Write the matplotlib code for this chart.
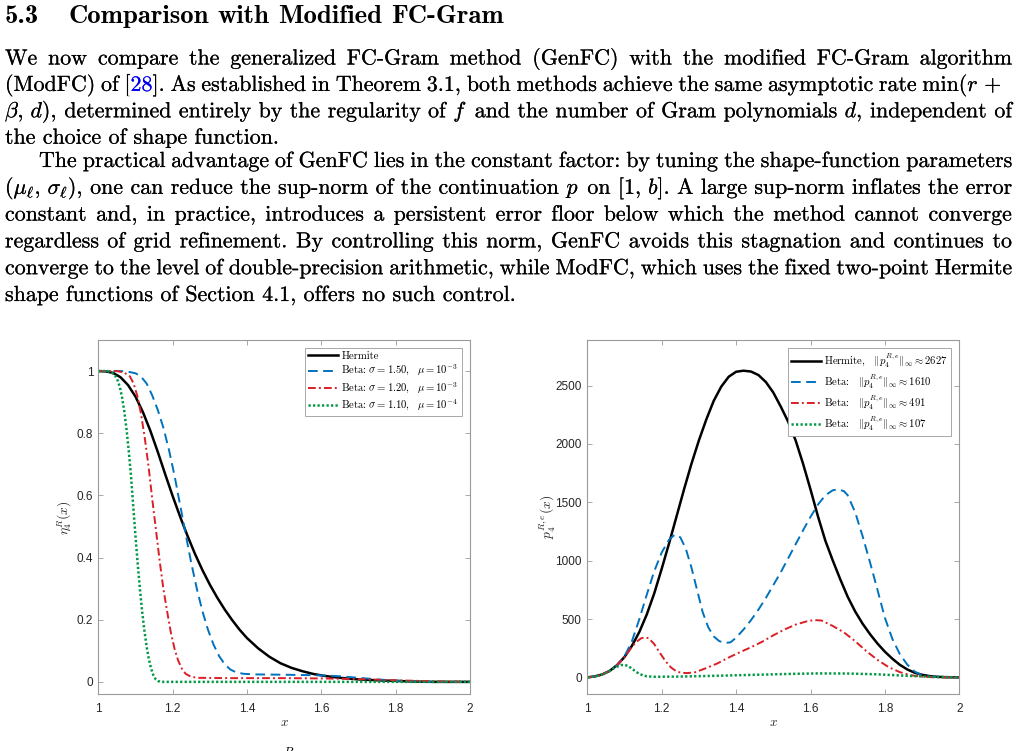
import matplotlib
matplotlib.use("Agg")
import matplotlib.pyplot as plt
import matplotlib.patheffects as pe

plt.rcParams['mathtext.fontset'] = 'cm'
plt.rcParams['axes.unicode_minus'] = False

W, H = 1021, 751
DPI = 100

# ---------------- data: left panel  eta_4^R(x) ----------------
eta_herm_x = [1.000, 1.020, 1.040, 1.060, 1.080, 1.100, 1.120, 1.140, 1.160, 1.180, 1.200, 1.220,
              1.240, 1.260, 1.280, 1.300, 1.320, 1.340, 1.360, 1.380, 1.400, 1.430, 1.460, 1.490,
              1.520, 1.550, 1.580, 1.610, 1.650, 1.700, 1.750, 1.800, 1.850, 1.900, 2.000]
eta_herm_y = [1.000, 0.999, 0.994, 0.980, 0.955, 0.918, 0.868, 0.808, 0.740, 0.668, 0.598, 0.532,
              0.470, 0.412, 0.360, 0.313, 0.271, 0.233, 0.199, 0.168, 0.141, 0.108, 0.081, 0.060,
              0.045, 0.034, 0.025, 0.019, 0.013, 0.008, 0.005, 0.003, 0.001, 0.000, 0.000]

eta_b150_x = [1.000, 1.060, 1.080, 1.100, 1.115, 1.130, 1.145, 1.160, 1.175, 1.190, 1.205, 1.220,
              1.235, 1.250, 1.265, 1.280, 1.295, 1.310, 1.325, 1.340, 1.355, 1.370, 1.390, 1.420,
              1.500, 1.600, 1.650, 1.700, 1.750, 1.800, 1.850, 1.900, 2.000]
eta_b150_y = [1.000, 1.000, 0.998, 0.993, 0.982, 0.960, 0.922, 0.875, 0.818, 0.747, 0.664, 0.570,
              0.475, 0.383, 0.300, 0.228, 0.168, 0.120, 0.083, 0.057, 0.040, 0.031, 0.026, 0.024,
              0.023, 0.021, 0.018, 0.013, 0.008, 0.004, 0.002, 0.000, 0.000]

eta_b120_x = [1.000, 1.050, 1.070, 1.085, 1.095, 1.105, 1.115, 1.125, 1.135, 1.145, 1.155, 1.165,
              1.175, 1.185, 1.195, 1.205, 1.215, 1.225, 1.235, 1.250, 1.270, 1.350, 1.500, 1.600,
              1.700, 1.800, 1.900, 2.000]
eta_b120_y = [1.000, 1.000, 0.995, 0.983, 0.960, 0.920, 0.862, 0.785, 0.695, 0.590, 0.490, 0.390,
              0.300, 0.228, 0.160, 0.107, 0.068, 0.042, 0.026, 0.016, 0.013, 0.012, 0.012, 0.011,
              0.009, 0.005, 0.002, 0.000]

eta_b110_x = [1.000, 1.025, 1.035, 1.045, 1.052, 1.058, 1.064, 1.070, 1.076, 1.082, 1.088, 1.094,
              1.100, 1.106, 1.112, 1.118, 1.124, 1.130, 1.136, 1.142, 1.148, 1.154, 1.160, 1.168,
              2.000]
eta_b110_y = [1.000, 1.000, 0.996, 0.986, 0.970, 0.948, 0.915, 0.870, 0.812, 0.742, 0.662, 0.565,
              0.470, 0.380, 0.298, 0.226, 0.165, 0.114, 0.073, 0.043, 0.022, 0.009, 0.003, 0.000,
              0.000]

# ---------------- data: right panel  p_4^{R,e}(x) ----------------
p_herm_x = [1.00, 1.02, 1.04, 1.06, 1.08, 1.10, 1.12, 1.14, 1.16, 1.18, 1.20, 1.22, 1.24, 1.26,
            1.28, 1.30, 1.32, 1.34, 1.36, 1.38, 1.40, 1.42, 1.44, 1.46, 1.48, 1.50, 1.52, 1.54,
            1.56, 1.58, 1.60, 1.62, 1.64, 1.66, 1.68, 1.70, 1.72, 1.74, 1.76, 1.78, 1.80, 1.82,
            1.84, 1.86, 1.88, 1.90, 1.92, 1.94, 1.96, 2.00]
p_herm_y = [0, 8, 25, 55, 105, 175, 270, 390, 540, 720, 930, 1150, 1380, 1610,
            1830, 2030, 2210, 2370, 2490, 2575, 2618, 2627, 2620, 2590, 2530, 2440, 2320, 2190,
            2030, 1830, 1610, 1380, 1170, 1000, 840, 690, 565, 460, 370, 290, 220, 160,
            108, 68, 40, 22, 11, 5, 2, 0]

p_b150_x = [1.00, 1.02, 1.04, 1.06, 1.08, 1.10, 1.12, 1.14, 1.16, 1.18, 1.20, 1.22, 1.235, 1.25,
            1.265, 1.28, 1.295, 1.31, 1.325, 1.34, 1.355, 1.37, 1.385, 1.40, 1.42, 1.44, 1.46,
            1.48, 1.50, 1.52, 1.54, 1.56, 1.58, 1.60, 1.62, 1.64, 1.66, 1.675, 1.69, 1.70, 1.72,
            1.74, 1.76, 1.78, 1.80, 1.82, 1.84, 1.86, 1.88, 1.90, 1.92, 2.00]
p_b150_y = [0, 8, 25, 55, 105, 180, 310, 500, 710, 910, 1070, 1180, 1222, 1200,
            1100, 940, 750, 560, 430, 350, 310, 295, 300, 340, 410, 490, 580,
            680, 790, 900, 1020, 1140, 1260, 1375, 1480, 1560, 1603, 1610, 1595, 1560, 1415,
            1210, 985, 750, 510, 330, 200, 110, 50, 18, 5, 0]

p_b120_x = [1.00, 1.02, 1.04, 1.06, 1.08, 1.10, 1.115, 1.13, 1.145, 1.155, 1.165, 1.18, 1.195,
            1.21, 1.225, 1.24, 1.255, 1.27, 1.29, 1.32, 1.35, 1.38, 1.41, 1.44, 1.47, 1.50,
            1.53, 1.56, 1.59, 1.61, 1.63, 1.66, 1.69, 1.72, 1.75, 1.78, 1.81, 1.84, 1.87, 1.90,
            1.93, 2.00]
p_b120_y = [0, 8, 25, 55, 105, 175, 240, 300, 335, 343, 335, 285, 210,
            140, 85, 50, 38, 37, 44, 80, 120, 170, 215, 258, 305, 360,
            410, 452, 480, 491, 487, 440, 385, 310, 225, 150, 88, 45, 18, 6,
            1, 0]

p_b110_x = [1.00, 1.02, 1.04, 1.06, 1.075, 1.09, 1.10, 1.11, 1.12, 1.13, 1.14, 1.15, 1.16,
            1.18, 1.25, 1.35, 1.45, 1.55, 1.62, 1.70, 1.78, 1.85, 1.92, 2.00]
p_b110_y = [0, 8, 25, 55, 85, 105, 107, 97, 75, 50, 30, 17, 9,
            5, 7, 14, 22, 30, 34, 33, 26, 15, 5, 0]

# ---------------- ticks and labels ----------------
xticks = [1, 1.2, 1.4, 1.6, 1.8, 2]
xtick_labels = ['1', '1.2', '1.4', '1.6', '1.8', '2']
yticks_left = [0, 0.2, 0.4, 0.6, 0.8, 1]
ytick_labels_left = ['0', '0.2', '0.4', '0.6', '0.8', '1']
yticks_right = [0, 500, 1000, 1500, 2000, 2500]
ytick_labels_right = ['0', '500', '1000', '1500', '2000', '2500']

legend_left = ["Hermite",
               r"Beta:$\ \sigma = 1.50,\ \ \mu = 10^{-3}$",
               r"Beta:$\ \sigma = 1.20,\ \ \mu = 10^{-3}$",
               r"Beta:$\ \sigma = 1.10,\ \ \mu = 10^{-4}$"]
legend_right = [r"Hermite,$\quad\|p_4^{R,e}\|_\infty \approx 2627$",
                r"Beta:$\quad\|p_4^{R,e}\|_\infty \approx 1610$",
                r"Beta:$\quad\|p_4^{R,e}\|_\infty \approx 491$",
                r"Beta:$\quad\|p_4^{R,e}\|_\infty \approx 107$"]

ylabel_left = r"$\eta_4^R(x)$"
ylabel_right = r"$p_4^{R,e}(x)$"
xlabel = r"$x$"

heading_num = "5.3"
heading_title = "Comparison with Modified FC-Gram"
body_lines = [
    "We now compare the generalized FC-Gram method (GenFC) with the modified FC-Gram algorithm",
    r"(ModFC) of [§28§]. As established in Theorem 3.1, both methods achieve the same asymptotic rate $\min(r\,+$",
    r"$\beta,\,d)$, determined entirely by the regularity of $f$ and the number of Gram polynomials $d$, independent of",
    "the choice of shape function.",
    "The practical advantage of GenFC lies in the constant factor: by tuning the shape-function parameters",
    r"$(\mu_\ell,\,\sigma_\ell)$, one can reduce the sup-norm of the continuation $p$ on $[1,\,b]$. A large sup-norm inflates the error",
    "constant and, in practice, introduces a persistent error floor below which the method cannot converge",
    "regardless of grid refinement. By controlling this norm, GenFC avoids this stagnation and continues to",
    "converge to the level of double-precision arithmetic, while ModFC, which uses the fixed two-point Hermite",
    "shape functions of Section 4.1, offers no such control.",
]
caption_fragment = r"$R$"

# ---------------- styling / layout ----------------
BLACK = '#000000'
BLUE = '#0072BD'
RED = '#DA1F26'
GREEN = '#009944'
SPINE = '#9a9a9a'
TICKTXT = '#262626'

fig = plt.figure(figsize=(W / DPI, H / DPI), dpi=DPI)
renderer = fig.canvas.get_renderer()


def measure(s, **kw):
    t = fig.text(0, 0, s, **kw)
    w = t.get_window_extent(renderer).width
    t.remove()
    return w


def segments(tok):
    if '§' in tok and '$' not in tok:
        parts = tok.split('§')
        return [(p, BLACK if i % 2 == 0 else '#0000EE') for i, p in enumerate(parts) if p]
    return [(tok, BLACK)]


def natural_width(text, size, family, space_em=0.333):
    toks = text.split(' ')
    tw = sum(measure(s, size=size, family=family) for t in toks for s, c in segments(t))
    return tw + (len(toks) - 1) * space_em * size * DPI / 72


def layout_line(text, x0, x1, yb, size, family, space_em=0.333, stroke=0.0):
    toks = text.split(' ')
    segs = [segments(t) for t in toks]
    widths = [[measure(s, size=size, family=family) for s, c in sg] for sg in segs]
    tot = sum(sum(w) for w in widths)
    if x1 is None:
        gap = space_em * size * DPI / 72
    else:
        gap = (x1 - x0 - tot) / (len(toks) - 1)
    x = x0
    for sg, ws in zip(segs, widths):
        for (s, c), w in zip(sg, ws):
            t = fig.text(x / W, 1 - yb / H, s, size=size, family=family, color=c,
                         va='baseline', ha='left')
            if stroke > 0:
                t.set_path_effects([pe.withStroke(linewidth=stroke, foreground=c)])
            x += w
        x += gap


# heading
hsize = 14.0 * 435.0 / natural_width(heading_title, 14.0, 'cmb10')
layout_line(heading_num, 5, None, 23.3, hsize, 'cmb10')
layout_line(heading_title, 68.3, None, 23.3, hsize, 'cmb10')

# body
bsize = 14.0 * 508.0 / natural_width(body_lines[-1], 14.0, 'cmr10')
line_x0 = [5, 5, 5, 5, 39, 5, 5, 5, 5, 5]
line_x1 = [1012, 1002, 1012, None, 1012, 1012, 1012, 1012, 1012, None]
line_y = [64.5, 90.9, 117.3, 143.7, 167.0, 193.8, 220.6, 247.4, 274.2, 301.0]
for txt, a, b, yb in zip(body_lines, line_x0, line_x1, line_y):
    layout_line(txt, a, b, yb, bsize, 'cmr10', stroke=0.12)

# caption fragment (cut at figure bottom, as in the reference)
fig.text(283 / W, 1 - 745.5 / H, caption_fragment, size=9, color=BLACK, va='top', ha='left')

# ---------------- axes ----------------
axL = fig.add_axes([98.3 / W, 1 - 694.3 / H, 371.7 / W, 354.3 / H])
axR = fig.add_axes([587.3 / W, 1 - 694.3 / H, 372.0 / W, 354.3 / H])

lw_main = 1.8
lw_other = 1.4
styles = [
    dict(color=BLACK, lw=lw_main, ls='-'),
    dict(color=BLUE, lw=lw_other, dashes=(5.0, 2.8)),
    dict(color=RED, lw=lw_other, dashes=(4.0, 1.6, 1.0, 1.6)),
    dict(color=GREEN, lw=lw_main, dashes=(0.9, 0.9)),
]

left_series = [(eta_herm_x, eta_herm_y), (eta_b150_x, eta_b150_y),
               (eta_b120_x, eta_b120_y), (eta_b110_x, eta_b110_y)]
right_series = [(p_herm_x, p_herm_y), (p_b150_x, p_b150_y),
                (p_b120_x, p_b120_y), (p_b110_x, p_b110_y)]

handlesL = []
for (xs, ys), st, lab in zip(left_series, styles, legend_left):
    h, = axL.plot(xs, ys, label=lab, solid_joinstyle='round', **st)
    handlesL.append(h)
handlesR = []
for (xs, ys), st, lab in zip(right_series, styles, legend_right):
    h, = axR.plot(xs, ys, label=lab, solid_joinstyle='round', **st)
    handlesR.append(h)

for ax in (axL, axR):
    ax.set_xlim(1, 2)
    ax.set_xticks(xticks)
    ax.set_xticklabels(xtick_labels)
    for sp in ax.spines.values():
        sp.set_color(SPINE)
        sp.set_linewidth(0.8)
    ax.tick_params(direction='in', length=3.5, width=0.6, color=SPINE,
                   labelcolor=TICKTXT, labelsize=8.5, top=True, right=True,
                   labelfontfamily='Liberation Sans')
    ax.tick_params(axis='x', pad=6.0)
    ax.set_xlabel(xlabel, fontsize=9.5, color=TICKTXT, va='center')
    ax.xaxis.set_label_coords(0.5, -0.081)

axL.set_ylim(-0.04, 1.1)
axL.set_yticks(yticks_left)
axL.set_yticklabels(ytick_labels_left)
axL.tick_params(axis='y', pad=3.6)
axL.set_ylabel(ylabel_left, fontsize=9.8, color=TICKTXT, va='center')
axL.yaxis.set_label_coords(-0.0896, 0.5)

axR.set_ylim(-145, 2890)
axR.set_yticks(yticks_right)
axR.set_yticklabels(ytick_labels_right)
axR.tick_params(axis='y', pad=4.0)
axR.set_ylabel(ylabel_right, fontsize=9.8, color=TICKTXT, va='center')
axR.yaxis.set_label_coords(-0.108, 0.5)

leg_kw = dict(loc='upper right', borderaxespad=0.0, fancybox=False, framealpha=1.0,
              edgecolor=SPINE, prop={'family': 'cmr10', 'size': 7.7},
              handlelength=2.8, handletextpad=0.3, labelspacing=0.22,
              borderpad=0.3)
lgL = axL.legend(handles=handlesL, bbox_to_anchor=(0.9777, 0.9766), **leg_kw)
lgR = axR.legend(handles=handlesR, bbox_to_anchor=(0.9777, 0.9766), **leg_kw)
for lg in (lgL, lgR):
    lg.get_frame().set_linewidth(0.6)

fig.savefig('out.png', dpi=DPI)
